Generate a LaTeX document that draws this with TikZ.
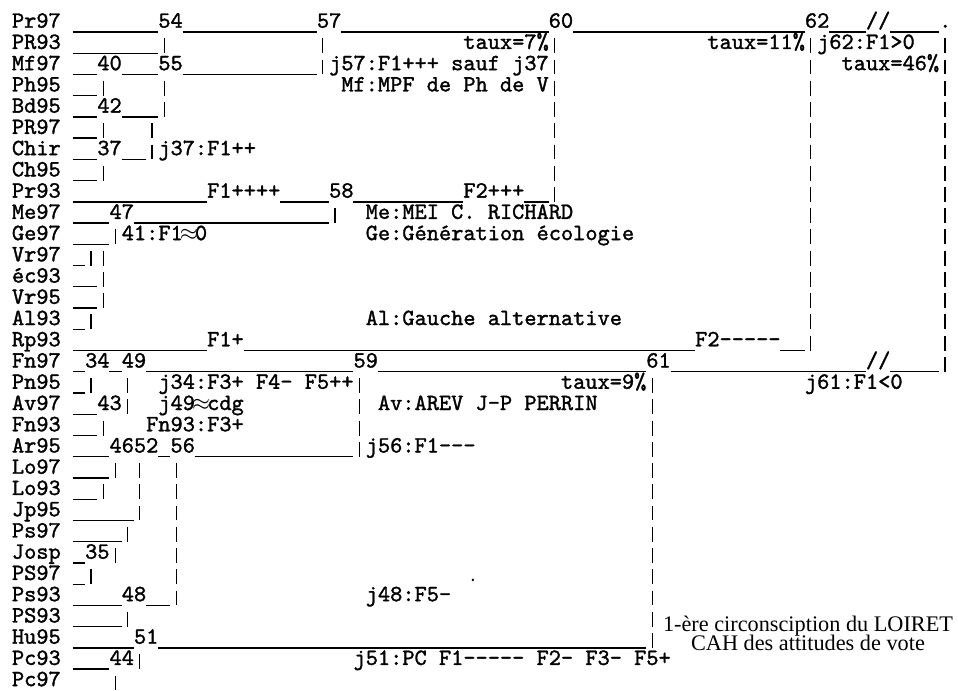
\documentclass[tikz,border=0pt]{standalone}
\usepackage{fontspec}
\newfontfamily\policetitre{Liberation Serif}
\newfontfamily\machinefam{lmmono10-regular.otf}[FakeBold=1.4]
\newcommand\machine{\machinefam\fontsize{17.43}{18}\selectfont}
\newcommand\presque{\makebox[0.525em]{$\approx$}}
\tikzset{
  etiq/.style={font=\machine, inner sep=0pt, anchor=base west},
  trait/.style={line width=1pt},
  barre/.style={line width=1pt},
  legende/.style={font=\policetitre\fontsize{16.7}{18}\selectfont, inner sep=0pt, anchor=base}
}

\begin{document}
\begin{tikzpicture}[x=9.15pt, y=-15.93pt]
  \useasboundingbox (-0.959,-1.304) rectangle (77.566,31.228);

  % feuilles
  \foreach \nom [count=\i from 0] in {Pr97, PR93, Mf97, Ph95, Bd95, PR97, Chir, Ch95,
      Pr93, Me97, Ge97, Vr97, éc93, Vr95, Al93, Rp93, Fn97, Pn95, Av97, Fn93, Ar95,
      Lo97, Lo93, Jp95, Ps97, Josp, PS97, Ps93, PS93, Hu95, Pc93, Pc97}
    \node[etiq] (f\i) at (0,\i) {\nom};

  % numeros des noeuds
  \foreach \n/\c/\r in {54/12/0, 57/25/0, 60/44/0, 62/65/0, 40/7/2, 55/12/2, 42/7/4,
      37/7/6, 58/26/8, 47/8/9, 34/6/16, 49/9/16, 59/28/16, 61/52/16, 43/7/18,
      46/8/20, 52/10/20, 56/13/20, 35/6/25, 48/9/27, 51/10/29, 44/8/30}
    \node[etiq] (n\n) at (\c,\r) {\n};

  % traits horizontaux
  \foreach \r/\a/\b in {0/5/11, 0/14/24, 0/27/43, 0/46/64, 0/67/69, 0/72/75,
      1/5/11, 2/5/6, 2/9/11, 2/14/24, 3/5/6, 4/5/6, 4/9/11, 5/5/6, 6/5/6, 6/9/10,
      7/5/6, 8/5/15, 8/22/25, 8/28/36, 8/42/43, 9/5/7, 9/10/25, 10/5/7, 11/5/5,
      12/5/6, 13/5/6, 14/5/5, 15/5/15, 15/19/55, 15/63/64, 16/5/5, 16/8/8,
      16/11/27, 16/30/51, 16/54/69, 16/72/75, 17/5/5, 18/5/6, 19/5/6, 20/5/7,
      20/12/12, 20/15/27, 21/5/7, 22/5/6, 23/5/9, 24/5/8, 25/5/5, 26/5/5,
      27/5/8, 27/11/12, 28/5/8, 29/5/9, 29/12/51, 30/5/7}
    \draw[trait] (\a,\r+0.2) -- (\b+1,\r+0.2);

  % barres verticales
  \foreach \c/\a/\b in {12/1/1, 12/3/4, 25/1/2, 44/1/8, 65/1/15, 76/1/16,
      7/3/3, 7/5/5, 7/7/7, 7/11/13, 7/19/19, 7/22/22, 11/5/6, 26/9/9,
      8/10/10, 8/21/21, 8/25/25, 8/31/31, 6/11/11, 6/14/14, 6/17/17, 6/26/26,
      9/17/18, 9/24/24, 9/28/28, 28/17/20, 52/17/29, 10/21/23, 10/30/30, 13/21/27}
    \foreach \r in {\a,...,\b}
      \draw[barre] (\c+0.5,\r-0.5) -- (\c+0.5,\r+0.2);

  \node[etiq] (coupe1) at (70,0) {//};
  \node[etiq] (fin) at (76,0) {.};
  \node[etiq] (coupe2) at (70,16) {//};

  % commentaires
  \node[etiq] (a1) at (37,1) {taux=7\%};
  \node[etiq] (a2) at (57,1) {taux=11\%};
  \node[etiq] (a3) at (66,1) {j62:F1>0};
  \node[etiq] (a4) at (26,2) {j57:F1+++ sauf j37};
  \node[etiq] (a5) at (68,2) {taux=46\%};
  \node[etiq] (a6) at (27,3) {Mf:MPF de Ph de V};
  \node[etiq] (a7) at (12,6) {j37:F1++};
  \node[etiq] (a8) at (16,8) {F1++++};
  \node[etiq] (a9) at (37,8) {F2+++};
  \node[etiq] (a10) at (29,9) {Me:MEI C. RICHARD};
  \node[etiq] (a11) at (9,10) {41:F1\presque 0};
  \node[etiq] (a12) at (29,10) {Ge:Génération écologie};
  \node[etiq] (a13) at (29,14) {Al:Gauche alternative};
  \node[etiq] (a14) at (16,15) {F1+};
  \node[etiq] (a15) at (56,15) {F2-----};
  \node[etiq] (a16) at (12,17) {j34:F3+ F4- F5++};
  \node[etiq] (a17) at (45,17) {taux=9\%};
  \node[etiq] (a18) at (65,17) {j61:F1<0};
  \node[etiq] (a19) at (12,18) {j49\presque cdg};
  \node[etiq] (a20) at (30,18) {Av:AREV J-P PERRIN};
  \node[etiq] (a21) at (11,19) {Fn93:F3+};
  \node[etiq] (a22) at (29,20) {j56:F1---};
  \node[etiq] (a23) at (29,27) {j48:F5-};
  \node[etiq] (a24) at (28,30) {j51:PC F1----- F2- F3- F5+};
  \fill (37.8,26.0) circle (1pt);

  \node[legende] (t1) at (65.27,28.45) {1-ère circonsciption du LOIRET};
  \node[legende] (t2) at (65.27,29.33) {CAH des attitudes de vote};
\end{tikzpicture}
\end{document}
